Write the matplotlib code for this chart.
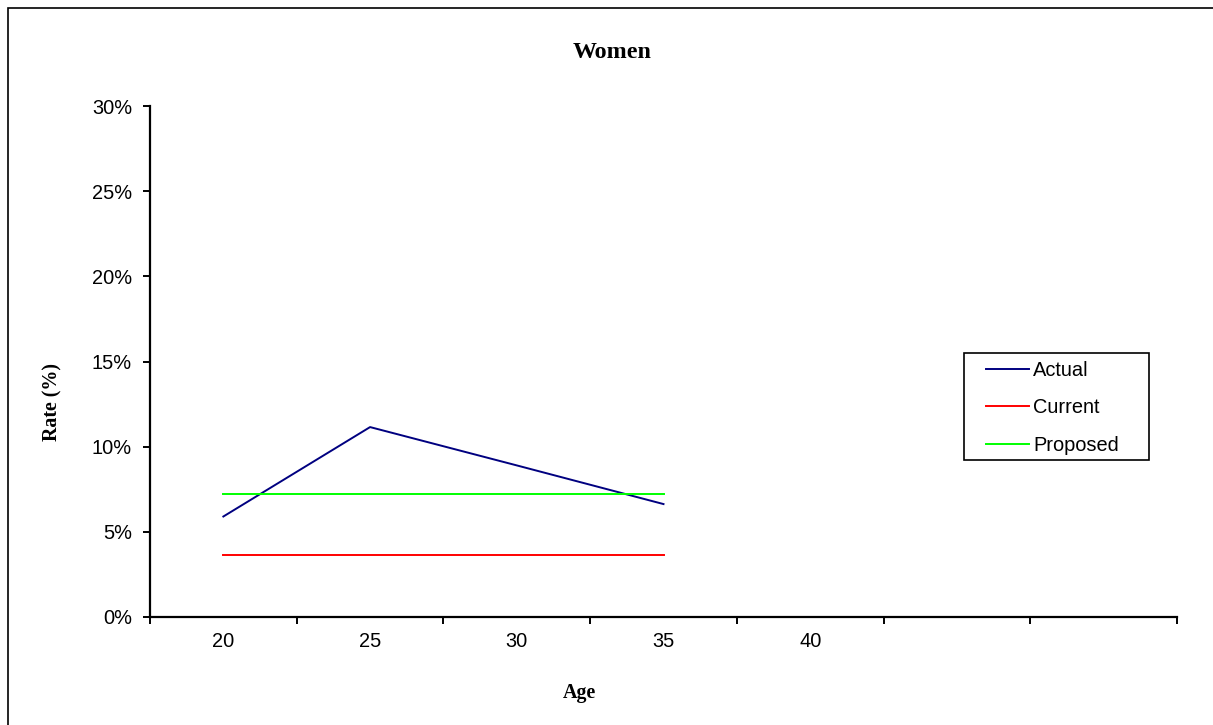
import matplotlib.pyplot as plt
from matplotlib.patches import Rectangle
from matplotlib.ticker import FixedLocator, NullFormatter

ages = ['20', '25', '30', '35', '40', '', '']
actual = [5.9, 11.15, 8.9, 6.63]
current = [3.65, 3.65, 3.65, 3.65]
proposed = [7.2, 7.2, 7.2, 7.2]
yticks = [0, 5, 10, 15, 20, 25, 30]

sans = 'Liberation Sans'
serif = 'Liberation Serif'
W, H = 1213, 725

fig = plt.figure(figsize=(W / 100, H / 100), dpi=100)
# outer chart border (runs off the right and bottom edges)
fig.patches.append(Rectangle((8 / W, -0.01), 1.02, 1 - 8 / H + 0.01,
                             transform=fig.transFigure, fill=False,
                             edgecolor='black', linewidth=1.2))

ax = fig.add_axes([150 / W, 1 - 617 / H, (1177 - 150) / W, (617 - 106) / H])

x = list(range(len(actual)))
ax.plot(x, actual, color='#000080', lw=1.4, label='Actual')
ax.plot(x, current, color='#ff0000', lw=1.4, label='Current')
ax.plot(x, proposed, color='#00ff00', lw=1.4, label='Proposed')

ax.set_xlim(-0.5, len(ages) - 0.5)
ax.set_ylim(0, 30)
ax.spines['top'].set_visible(False)
ax.spines['right'].set_visible(False)
for s in ['left', 'bottom']:
    ax.spines[s].set_linewidth(1.6)

# category axis: ticks between categories, labels in the middle
ax.xaxis.set_major_locator(FixedLocator([i - 0.5 for i in range(len(ages) + 1)]))
ax.xaxis.set_major_formatter(NullFormatter())
ax.xaxis.set_minor_locator(FixedLocator(range(len(ages))))
ax.set_xticklabels(ages, minor=True, fontname=sans, fontsize=14.4)
ax.tick_params(axis='x', which='major', direction='out', length=5, width=1.4)
ax.tick_params(axis='x', which='minor', length=0, pad=11)

ax.set_yticks(yticks)
ax.set_yticklabels([f'{v}%' for v in yticks], fontname=sans, fontsize=14.4)
ax.tick_params(axis='y', direction='out', length=5, width=1.4, pad=8)

fig.text(612 / W, 1 - 58 / H, 'Women', ha='center', va='baseline',
         fontname=serif, fontweight='bold', fontsize=17.3)
fig.text(52 / W, 1 - 402 / H, 'Rate (%)', ha='center', va='center',
         rotation=90, fontname=serif, fontweight='bold', fontsize=14.4)
fig.text(579 / W, 1 - 698 / H, 'Age', ha='center', va='baseline',
         fontname=serif, fontweight='bold', fontsize=14.4)

leg = ax.legend(loc='upper left', bbox_to_anchor=(986 / W, 1 - 361 / H),
                bbox_transform=fig.transFigure, prop={'family': sans, 'size': 14.4},
                frameon=False, handlelength=2.15, handletextpad=0.2,
                labelspacing=0.92, borderpad=0, borderaxespad=0)
fig.patches.append(Rectangle((964 / W, 1 - 460 / H), (1149 - 964) / W, (460 - 353) / H,
                             transform=fig.transFigure, fill=False,
                             edgecolor='black', linewidth=1.2))

fig.savefig('out.png', dpi=100)
